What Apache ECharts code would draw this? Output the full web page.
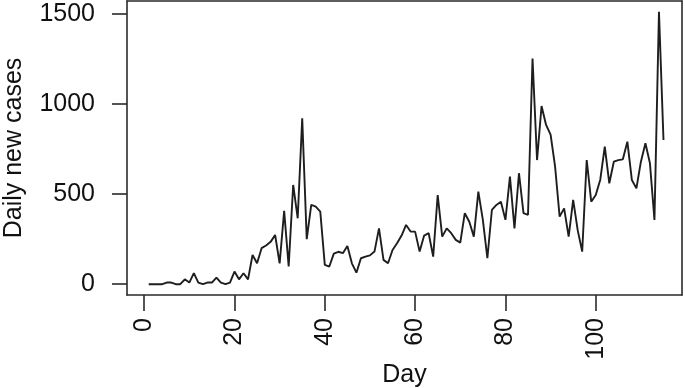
<!DOCTYPE html>
<html>
<head>
<meta charset="utf-8">
<script src="https://cdn.jsdelivr.net/npm/echarts@6/dist/echarts.min.js"></script>
<style>
  html, body { margin: 0; padding: 0; background: #fff; }
  #chart { width: 685px; height: 388px; }
</style>
</head>
<body>
<div id="chart"></div>
<script>
// Daily new cases, day 1..115
const dailyCases = [
  0, 0, 0, 0, 9, 9, 0, 0, 27, 9,
  61, 9, 0, 9, 9, 37, 9, 0, 9, 70,
  27, 61, 27, 162, 116, 200, 215, 235, 273, 116,
  407, 98, 551, 366, 921, 250, 440, 430, 403, 107,
  98, 170, 180, 172, 212, 116, 64, 144, 153, 160,
  181, 310, 135, 116, 190, 227, 270, 329, 292, 292,
  181, 270, 283, 153, 495, 264, 310, 283, 246, 231,
  394, 347, 264, 514, 357, 144, 412, 440, 458, 357,
  597, 310, 616, 394, 385, 1253, 689, 989, 884, 830,
  652, 375, 421, 264, 468, 300, 181, 689, 458, 495,
  580, 763, 560, 680, 689, 693, 791, 578, 532, 680,
  782, 671, 357, 1512, 800
];
const xTicks = [0, 20, 40, 60, 80, 100];
const yTicks = [0, 500, 1000, 1500];
const xTitle = 'Day';
const yTitle = 'Daily new cases';

const points = dailyCases.map((v, i) => [i + 1, v]);

const FONT = '"Liberation Sans", Arial, Helvetica, sans-serif';
const BOX = { show: true, onZero: false, lineStyle: { color: '#2a2a2a', width: 1.6 } };
const X_RANGE = { min: -3.8, max: 119.1 };
const Y_RANGE = { min: -60, max: 1572 };
const chart = echarts.init(document.getElementById('chart'), null, { renderer: 'canvas' });
chart.setOption({
  animation: false,
  backgroundColor: '#ffffff',
  grid: {
    left: 127, right: 3, top: 1, bottom: 93,
    containLabel: false, outerBoundsMode: 'none', show: false
  },
  xAxis: [{
    type: 'value', position: 'bottom',
    min: X_RANGE.min, max: X_RANGE.max,
    splitLine: { show: false },
    axisLine: BOX,
    axisTick: { show: true, inside: false, length: 16, customValues: xTicks,
                lineStyle: { color: '#2a2a2a', width: 1.6 } },
    axisLabel: { show: true, rotate: 90, margin: 23, customValues: xTicks,
                 formatter: v => String(v),
                 fontSize: 25, color: '#111', fontFamily: FONT },
    name: xTitle, nameLocation: 'middle', nameGap: 68, nameMoveOverlap: false,
    nameTextStyle: { fontSize: 25, color: '#111', fontFamily: FONT }
  }, {
    type: 'value', position: 'top',
    min: X_RANGE.min, max: X_RANGE.max,
    splitLine: { show: false }, axisLine: BOX,
    axisTick: { show: false }, axisLabel: { show: false }
  }],
  yAxis: [{
    type: 'value', position: 'left',
    min: Y_RANGE.min, max: Y_RANGE.max,
    splitLine: { show: false },
    axisLine: BOX,
    axisTick: { show: true, inside: false, length: 15, customValues: yTicks,
                lineStyle: { color: '#2a2a2a', width: 1.6 } },
    axisLabel: { show: true, margin: 32, customValues: yTicks,
                 formatter: v => String(v),
                 fontSize: 25, color: '#111', fontFamily: FONT },
    name: yTitle, nameLocation: 'middle', nameGap: 100, nameRotate: 90, nameMoveOverlap: false,
    nameTextStyle: { fontSize: 25, color: '#111', fontFamily: FONT }
  }, {
    type: 'value', position: 'right',
    min: Y_RANGE.min, max: Y_RANGE.max,
    splitLine: { show: false }, axisLine: BOX,
    axisTick: { show: false }, axisLabel: { show: false }
  }],
  series: [{
    type: 'line',
    xAxisIndex: 0, yAxisIndex: 0,
    data: points,
    showSymbol: false,
    symbol: 'none',
    lineStyle: { color: '#1e1e1e', width: 1.9 },
    silent: true
  }]
});
</script>
</body>
</html>
